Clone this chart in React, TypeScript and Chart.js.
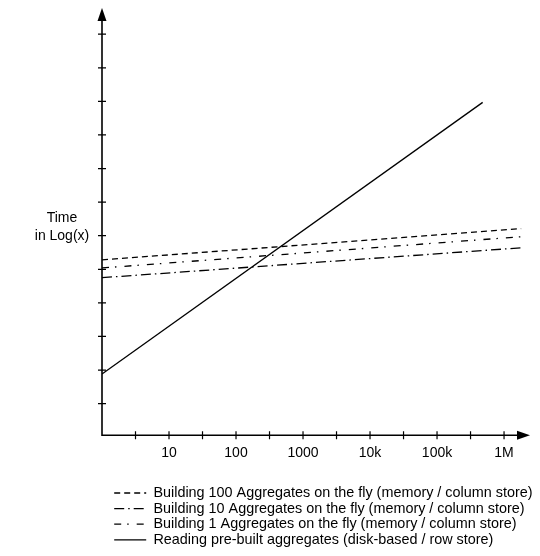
import React, { useEffect, useRef } from 'react';
import { Chart, registerables } from 'chart.js';

Chart.register(...registerables);

// ---- data ----
const seriesLabels = [
  'Building 100 Aggregates on the fly (memory / column store)',
  'Building 10 Aggregates on the fly (memory / column store)',
  'Building 1 Aggregates on the fly (memory / column store)',
  'Reading pre-built aggregates (disk-based / row store)',
];
// x = amount of data (log scale), y = time in log units
const build100X = [1, 1800000];
const build100Y = [5.28, 6.21];
const build10X = [1, 1800000];
const build10Y = [4.75, 5.64];
const build1X = [1, 1800000];
const build1Y = [5.04, 5.97];
const readingX = [1, 480000];
const readingY = [1.88, 9.97];

const xTickValues = [3.1623, 10, 31.623, 100, 316.23, 1000, 3162.3, 10000, 31623, 100000, 316228, 1000000];
const xTickLabels = ['', '10', '', '100', '', '1000', '', '10k', '', '100k', '', '1M'];
const yTickValues = [1, 2, 3, 4, 5, 6, 7, 8, 9, 10, 11, 12];
const yAxisTitle = ['Time', 'in Log(x)'];

const FONT = '"Liberation Sans", Arial, Helvetica, sans-serif';

const pts = (xs: number[], ys: number[]) => xs.map((x, i) => ({ x, y: ys[i] }));

const axesPlugin = {
  id: 'axesArrows',
  afterDatasetsDraw(chart: any) {
    const { ctx, chartArea: a, scales } = chart;
    const xs = scales.x;
    const ys = scales.y;
    const ox = a.left;
    const oy = a.bottom;
    ctx.save();
    ctx.setLineDash([]);
    ctx.strokeStyle = '#000';
    ctx.fillStyle = '#000';
    ctx.lineWidth = 1.6;
    ctx.beginPath();
    ctx.moveTo(ox, oy + 0.8);
    ctx.lineTo(ox, a.top + 10);
    ctx.moveTo(ox, oy);
    ctx.lineTo(a.right - 10, oy);
    ctx.stroke();
    // arrow heads
    ctx.beginPath();
    ctx.moveTo(ox, a.top);
    ctx.lineTo(ox - 4.5, a.top + 13);
    ctx.lineTo(ox + 4.5, a.top + 13);
    ctx.closePath();
    ctx.fill();
    ctx.beginPath();
    ctx.moveTo(a.right, oy);
    ctx.lineTo(a.right - 13, oy - 4.5);
    ctx.lineTo(a.right - 13, oy + 4.5);
    ctx.closePath();
    ctx.fill();
    // tick marks crossing the axes
    ctx.lineWidth = 1.2;
    ctx.beginPath();
    for (const v of yTickValues) {
      const py = ys.getPixelForValue(v);
      ctx.moveTo(ox - 4, py);
      ctx.lineTo(ox + 4, py);
    }
    for (const v of xTickValues) {
      const px = xs.getPixelForValue(v);
      ctx.moveTo(px, oy - 4);
      ctx.lineTo(px, oy + 4);
    }
    ctx.stroke();
    // horizontal y-axis title
    ctx.font = '14px ' + FONT;
    ctx.textAlign = 'center';
    ctx.textBaseline = 'middle';
    const cy = (a.top + a.bottom) / 2;
    ctx.fillText(yAxisTitle[0], ox - 40, cy - 3);
    ctx.fillText(yAxisTitle[1], ox - 40, cy + 15);
    ctx.restore();
  },
};

const legendShift = {
  id: 'legendShift',
  afterLayout(chart: any) {
    const lg = chart.legend;
    if (lg) {
      lg.left += 11;
      lg.right += 11;
      lg.top += 1;
      lg.bottom += 1;
    }
  },
};

export default function App() {
  const ref = useRef<HTMLCanvasElement | null>(null);
  useEffect(() => {
    if (!ref.current) return;
    const common = { borderColor: '#000', backgroundColor: '#000', borderWidth: 1.3, pointRadius: 0, tension: 0, fill: false };
    const chart = new Chart(ref.current, {
      type: 'line',
      data: {
        datasets: [
          { ...common, label: seriesLabels[0], data: pts(build100X, build100Y), borderDash: [6, 4] },
          { ...common, label: seriesLabels[1], data: pts(build10X, build10Y), borderDash: [10, 4, 1.5, 4] },
          { ...common, label: seriesLabels[2], data: pts(build1X, build1Y), borderDash: [7, 6, 1.5, 8] },
          { ...common, label: seriesLabels[3], data: pts(readingX, readingY), borderDash: [] },
        ],
      },
      options: {
        animation: false,
        responsive: true,
        maintainAspectRatio: false,
        layout: { padding: { left: 102, right: 10, top: 8, bottom: 0 } },
        font: { family: FONT },
        scales: {
          x: {
            type: 'logarithmic',
            min: 1,
            max: 2440000,
            bounds: 'data',
            grid: { display: false, drawTicks: false },
            border: { display: false },
            afterBuildTicks: (scale: any) => {
              scale.ticks = xTickValues.map((v) => ({ value: v }));
            },
            afterFit: (scale: any) => {
              scale.height = 48.4;
            },
            ticks: {
              autoSkip: false,
              maxRotation: 0,
              color: '#000',
              padding: 9.5,
              font: { size: 14, family: FONT },
              callback: (_v: any, i: number) => xTickLabels[i],
            },
          },
          y: {
            type: 'linear',
            display: false,
            min: 0.06,
            max: 12.78,
          },
        },
        plugins: {
          tooltip: { enabled: false },
          legend: {
            position: 'bottom',
            align: 'start',
            labels: {
              color: '#000',
              usePointStyle: true,
              pointStyle: 'line',
              pointStyleWidth: 32,
              padding: 1.2,
              font: { size: 14.4, family: FONT },
              generateLabels: (c: any) => {
                const items = (Chart as any).defaults.plugins.legend.labels.generateLabels(c);
                return items.map((it: any) => {
                  const ds = c.data.datasets[it.datasetIndex];
                  return {
                    ...it,
                    pointStyle: 'line',
                    lineDash: ds.borderDash || [],
                    lineWidth: ds.borderWidth,
                    strokeStyle: '#000',
                    fillStyle: '#000',
                    lineCap: 'butt',
                  };
                });
              },
            },
          },
        },
      },
      plugins: [axesPlugin, legendShift],
    } as any);
    return () => chart.destroy();
  }, []);
  return (
    <div style={{ position: 'fixed', left: 0, top: 0, width: 540, height: 556, background: '#fff' }}>
      <canvas ref={ref} />
    </div>
  );
}
